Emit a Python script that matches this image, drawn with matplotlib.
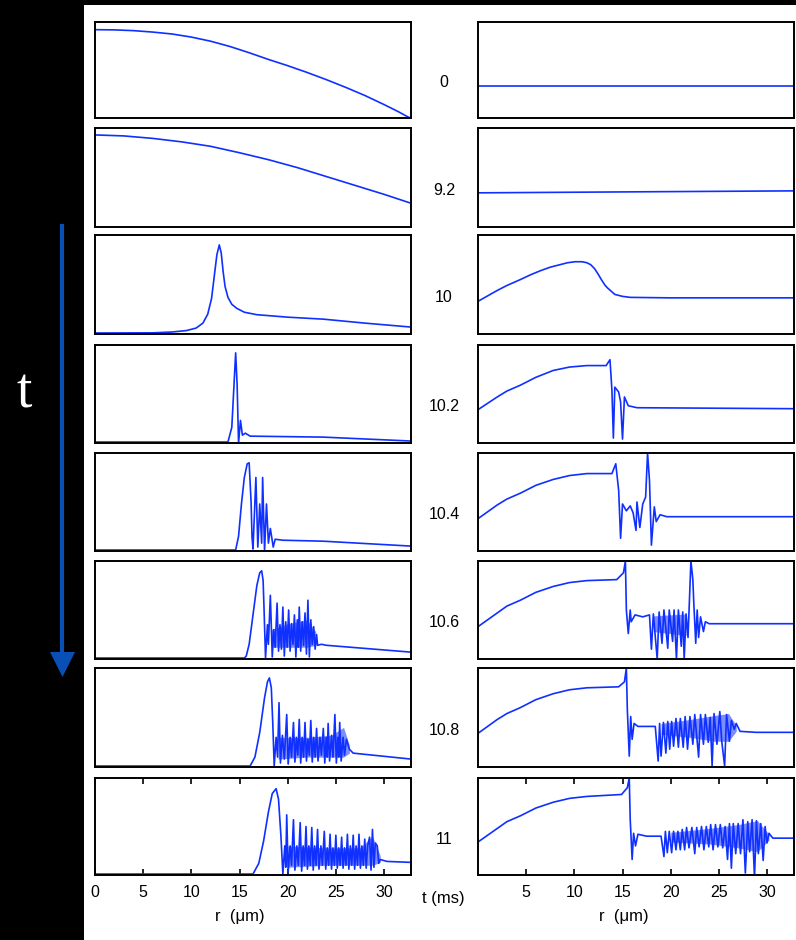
import matplotlib
matplotlib.use('Agg')
import matplotlib.pyplot as plt
from matplotlib.patches import Rectangle, Polygon

plt.rcParams['font.family'] = ['Liberation Sans', 'DejaVu Sans']

# time of each row (ms), shown between the columns
times = ['0', '9.2', '10', '10.2', '10.4', '10.6', '10.8', '11']

# left column traces: (r in um, value normalised to panel height)
left_t0 = [(0, 0.92), (2, 0.918), (4, 0.91), (6, 0.895), (8, 0.875), (10, 0.843), (12, 0.80),
           (14, 0.745), (16, 0.68), (18, 0.61), (20, 0.545), (22, 0.475), (24, 0.40), (26, 0.32),
           (28, 0.235), (30, 0.14), (31.5, 0.065), (32.5, 0.01), (32.8, 0.0)]
left_t92 = [(0, 0.93), (3, 0.92), (6, 0.895), (9, 0.86), (12, 0.815), (15, 0.75), (18, 0.68),
            (21, 0.60), (24, 0.51), (27, 0.42), (30, 0.33), (32.8, 0.24)]
left_t10 = [(0, 0.01), (6, 0.012), (8, 0.02), (9.5, 0.035), (10.5, 0.06), (11.2, 0.11), (11.7, 0.2),
            (12.1, 0.36), (12.4, 0.6), (12.65, 0.8), (12.9, 0.9), (13.1, 0.82), (13.3, 0.63),
            (13.5, 0.48), (13.8, 0.37), (14.2, 0.3), (14.7, 0.26), (15.5, 0.22), (16.8, 0.195),
            (20, 0.17), (23.7, 0.15), (28, 0.11), (32.8, 0.07)]
left_t102 = [(0, 0.01), (13.8, 0.01), (14.2, 0.16), (14.4, 0.54), (14.6, 0.92), (14.75, 0.6),
             (14.9, 0.0), (15.1, 0.23), (15.3, 0.08), (15.6, 0.1), (16.1, 0.07), (23.7, 0.06),
             (32.8, 0.02)]
left_t104 = [(0, 0.01), (14.6, 0.01), (14.9, 0.15), (15.2, 0.48), (15.5, 0.75), (15.8, 0.89), (16.0, 0.90),
             (16.2, 0.5), (16.3, 0.14), (16.4, 0.02), (16.7, 0.75), (16.9, 0.04), (17.1, 0.48),
             (17.3, 0.08), (17.4, 0.75), (17.6, 0.0), (17.8, 0.48), (18.0, 0.08), (18.2, 0.23),
             (18.5, 0.04), (18.7, 0.12), (19.5, 0.11), (23.7, 0.10), (32.8, 0.05)]
left_t106 = [(0, 0.01), (15.5, 0.01), (15.7, 0.03), (16.0, 0.15), (16.4, 0.45), (16.8, 0.75), (17.1, 0.88),
             (17.3, 0.9), (17.45, 0.8), (17.55, 0.5), (17.7, 0.01), (17.9, 0.35), (18.0, 0.15),
             (18.2, 0.65), (18.4, 0.02), (18.55, 0.3), (18.7, 0.12), (18.9, 0.57), (19.05, 0.08),
             (19.2, 0.35), (19.35, 0.1), (19.5, 0.53), (19.65, 0.03), (19.8, 0.38), (19.95, 0.12),
             (20.1, 0.5), (20.25, 0.08), (20.4, 0.36), (20.55, 0.15), (20.7, 0.45), (20.85, 0.02),
             (21.0, 0.4), (21.1, 0.12), (21.2, 0.53), (21.35, 0.08), (21.5, 0.38), (21.65, 0.14),
             (21.8, 0.47), (21.95, 0.05), (22.1, 0.6), (22.25, 0.02), (22.4, 0.4), (22.55, 0.15),
             (22.7, 0.33), (22.85, 0.1), (23.0, 0.25), (23.1, 0.14), (23.5, 0.15), (24, 0.14),
             (32.8, 0.07)]
left_t108 = [(0, 0.01), (16.1, 0.01), (16.6, 0.1), (17.1, 0.35), (17.6, 0.7), (17.9, 0.86), (18.1, 0.9),
             (18.3, 0.8), (18.45, 0.45), (18.6, 0.01), (18.8, 0.3), (18.95, 0.1), (19.1, 0.65),
             (19.25, 0.04), (19.45, 0.32), (19.65, 0.08), (19.9, 0.53), (20.05, 0.03), (20.25, 0.3),
             (20.4, 0.1), (20.6, 0.45), (20.75, 0.05), (20.9, 0.3), (21.05, 0.12), (21.2, 0.48),
             (21.35, 0.04), (21.5, 0.3), (21.65, 0.1), (21.8, 0.45), (21.95, 0.06), (22.1, 0.28),
             (22.25, 0.12), (22.4, 0.47), (22.55, 0.05), (22.7, 0.3), (22.85, 0.1), (23.0, 0.39),
             (23.15, 0.06), (23.35, 0.3), (23.5, 0.12), (23.7, 0.39), (23.85, 0.04), (24.0, 0.3),
             (24.1, 0.1), (24.2, 0.44), (24.35, 0.06), (24.55, 0.32), (24.7, 0.1), (24.9, 0.53),
             (25.05, 0.04), (25.2, 0.3), (25.3, 0.1), (25.4, 0.45), (25.55, 0.06), (25.75, 0.3),
             (25.9, 0.12), (26.1, 0.28), (26.4, 0.18), (26.8, 0.14), (32.8, 0.08)]
left_t11 = [(0, 0.01), (16.4, 0.01), (17.0, 0.12), (17.5, 0.35), (18.0, 0.65), (18.4, 0.84), (18.8, 0.89),
            (19.05, 0.78), (19.3, 0.4), (19.5, 0.01), (19.7, 0.3), (19.8, 0.08), (19.9, 0.62),
            (20.05, 0.03), (20.25, 0.3), (20.4, 0.1), (20.6, 0.57), (20.75, 0.05), (20.95, 0.3),
            (21.1, 0.1), (21.3, 0.54), (21.45, 0.04), (21.6, 0.3), (21.75, 0.1), (21.9, 0.5),
            (22.05, 0.06), (22.2, 0.3), (22.35, 0.1), (22.5, 0.49), (22.65, 0.05), (22.8, 0.3),
            (22.95, 0.1), (23.1, 0.47), (23.25, 0.06), (23.45, 0.3), (23.6, 0.1), (23.8, 0.45),
            (23.95, 0.06), (24.1, 0.28), (24.25, 0.1), (24.4, 0.42), (24.55, 0.06), (24.7, 0.28),
            (24.85, 0.1), (25.0, 0.41), (25.15, 0.07), (25.3, 0.28), (25.45, 0.1), (25.6, 0.39),
            (25.75, 0.07), (25.9, 0.28), (26.05, 0.1), (26.2, 0.42), (26.35, 0.06), (26.5, 0.3),
            (26.65, 0.1), (26.8, 0.41), (26.95, 0.06), (27.1, 0.3), (27.25, 0.1), (27.4, 0.42),
            (27.55, 0.07), (27.7, 0.3), (27.85, 0.1), (28.0, 0.37), (28.15, 0.07), (28.3, 0.3),
            (28.5, 0.39), (28.65, 0.05), (28.8, 0.47), (28.95, 0.08), (29.1, 0.33), (29.3, 0.3),
            (29.45, 0.12), (29.6, 0.16), (30.3, 0.14), (32.8, 0.13)]

# right column traces
right_t0 = [(0, 0.33), (32.8, 0.33)]
right_t92 = [(0, 0.345), (16, 0.355), (32.8, 0.365)]
right_t10 = [(0, 0.33), (1, 0.385), (2, 0.44), (3, 0.49), (4.4, 0.55), (5.5, 0.60), (6.5, 0.64),
             (7.5, 0.675), (8.5, 0.70), (9.3, 0.72), (10.1, 0.73), (10.8, 0.73), (11.3, 0.72),
             (11.7, 0.70), (12.1, 0.66), (12.5, 0.60), (12.8, 0.55), (13.2, 0.49), (13.5, 0.46),
             (14.2, 0.40), (15.0, 0.38), (15.8, 0.37), (20, 0.365), (32.8, 0.365)]
right_t102 = [(0, 0.34), (1, 0.405), (2, 0.47), (3, 0.53), (4.4, 0.59), (6, 0.67), (7.8, 0.74),
              (9.5, 0.775), (11.3, 0.79), (13.3, 0.79), (13.7, 0.85), (13.9, 0.54), (14.05, 0.05),
              (14.2, 0.57), (14.6, 0.52), (14.8, 0.42), (15.0, 0.04), (15.2, 0.47), (15.6, 0.38),
              (16.5, 0.36), (32.8, 0.35)]
right_t104 = [(0, 0.33), (1, 0.40), (2, 0.47), (3, 0.53), (4.4, 0.59), (6, 0.67), (7.8, 0.73),
              (9.5, 0.77), (11.3, 0.79), (13.9, 0.79), (14.3, 0.89), (14.6, 0.62), (14.8, 0.13),
              (15.0, 0.48), (15.4, 0.41), (15.8, 0.46), (16.1, 0.39), (16.4, 0.21), (16.5, 0.50),
              (16.8, 0.24), (17.1, 0.48), (17.4, 0.55), (17.6, 1.0), (17.8, 0.72), (18.0, 0.06),
              (18.3, 0.45), (18.5, 0.30), (18.9, 0.37), (19.6, 0.35), (32.8, 0.35)]
right_t106 = [(0, 0.33), (1, 0.40), (2, 0.47), (3, 0.54), (4.4, 0.60), (6, 0.68), (7.8, 0.74),
              (9.5, 0.78), (11.3, 0.8), (14.4, 0.81), (15.1, 0.88), (15.3, 1.0), (15.4, 0.5),
              (15.6, 0.26), (15.8, 0.5), (15.9, 0.38), (16.3, 0.45), (17.1, 0.43), (17.8, 0.45),
              (18.0, 0.1), (18.2, 0.46), (18.6, 0.0), (18.8, 0.48), (19.1, 0.16), (19.3, 0.5),
              (19.7, 0.11), (19.85, 0.5), (20.2, 0.18), (20.35, 0.5), (20.6, 0.0), (20.8, 0.5),
              (21.1, 0.13), (21.25, 0.48), (21.4, 0.0), (21.6, 0.46), (21.8, 0.22), (22.1, 1.0),
              (22.3, 0.81), (22.4, 0.57), (22.6, 0.16), (22.75, 0.5), (22.9, 0.22), (23.1, 0.43),
              (23.4, 0.28), (23.6, 0.38), (24.0, 0.36), (32.8, 0.36)]
right_t108 = [(0, 0.34), (1, 0.41), (2, 0.48), (3, 0.54), (4.4, 0.6), (6, 0.68), (7.8, 0.74),
              (9.5, 0.78), (11.3, 0.8), (14.6, 0.81), (15.2, 0.86), (15.4, 1.0), (15.5, 0.58),
              (15.7, 0.11), (15.85, 0.51), (16.0, 0.28), (16.2, 0.44), (16.6, 0.41), (18.4, 0.41),
              (18.7, 0.06), (18.85, 0.44), (19.0, 0.11), (19.25, 0.45), (19.5, 0.14), (19.7, 0.46),
              (19.9, 0.18), (20.1, 0.46), (20.3, 0.21), (20.55, 0.49), (20.8, 0.2), (21.0, 0.49),
              (21.3, 0.2), (21.5, 0.51), (21.75, 0.18), (22.0, 0.51), (22.3, 0.23), (22.5, 0.53),
              (22.9, 0.1), (23.1, 0.53), (23.4, 0.23), (23.6, 0.53), (23.9, 0.25), (24.1, 0.5),
              (24.3, 0.01), (24.5, 0.54), (24.8, 0.23), (25.1, 0.56), (25.3, 0.26), (25.6, 0.01),
              (25.8, 0.53), (26.1, 0.26), (26.3, 0.47), (26.6, 0.38), (26.8, 0.44), (27.2, 0.36),
              (28.9, 0.35), (32.8, 0.35)]
right_t11 = [(0, 0.34), (1, 0.41), (2, 0.48), (3, 0.55), (4.4, 0.61), (6, 0.69), (7.8, 0.75),
             (9.5, 0.79), (11.3, 0.81), (14.9, 0.83), (15.5, 0.9), (15.7, 1.0), (15.8, 0.57),
             (16.0, 0.16), (16.15, 0.43), (16.35, 0.3), (16.6, 0.42), (17.5, 0.40), (19.0, 0.40),
             (19.3, 0.19), (19.45, 0.45), (19.65, 0.23), (19.85, 0.45), (20.1, 0.23), (20.3, 0.45),
             (20.55, 0.26), (20.75, 0.45), (21.0, 0.26), (21.2, 0.47), (21.45, 0.26), (21.65, 0.49),
             (21.9, 0.28), (22.2, 0.49), (22.5, 0.22), (22.7, 0.49), (22.95, 0.29), (23.2, 0.5),
             (23.45, 0.26), (23.7, 0.5), (23.95, 0.29), (24.15, 0.52), (24.4, 0.26), (24.65, 0.52),
             (24.9, 0.29), (25.15, 0.52), (25.4, 0.28), (25.65, 0.5), (25.9, 0.16), (26.1, 0.53),
             (26.3, 0.07), (26.5, 0.53), (26.75, 0.22), (27.0, 0.53), (27.25, 0.22), (27.5, 0.57),
             (27.75, 0.02), (28.0, 0.55), (28.2, 0.24), (28.45, 0.57), (28.7, -0.03), (28.9, 0.56),
             (29.1, 0.22), (29.35, 0.53), (29.6, 0.15), (29.8, 0.5), (30.0, 0.33), (30.2, 0.43),
             (30.6, 0.38), (32.8, 0.38)]

# dense oscillation bands (r, low, high), read from the blurred filled regions
left_band_t106 = [(18.3, 0.12, 0.30), (20.0, 0.12, 0.36), (22.0, 0.12, 0.40), (22.9, 0.14, 0.28)]
left_band_t108 = [(19.0, 0.08, 0.30), (22.0, 0.10, 0.30), (24.5, 0.10, 0.32), (25.8, 0.10, 0.40),
                  (26.4, 0.14, 0.22)]
left_band_t11 = [(20.0, 0.08, 0.30), (24.0, 0.10, 0.28), (27.5, 0.10, 0.28), (28.8, 0.10, 0.40),
                 (29.6, 0.13, 0.20)]
right_band_t106 = [(18.2, 0.28, 0.44), (21.6, 0.24, 0.46)]
right_band_t108 = [(19.0, 0.33, 0.44), (22.0, 0.30, 0.48), (24.5, 0.26, 0.52), (26.0, 0.26, 0.54),
                   (26.8, 0.36, 0.42)]
right_band_t11 = [(20.0, 0.34, 0.44), (24.0, 0.32, 0.48), (27.0, 0.28, 0.52), (29.0, 0.24, 0.56),
                  (30.2, 0.36, 0.42)]

left_traces = [left_t0, left_t92, left_t10, left_t102, left_t104, left_t106, left_t108, left_t11]
right_traces = [right_t0, right_t92, right_t10, right_t102, right_t104, right_t106, right_t108, right_t11]
left_bands = [None, None, None, None, None, left_band_t106, left_band_t108, left_band_t11]
right_bands = [None, None, None, None, None, right_band_t106, right_band_t108, right_band_t11]

W, H = 796, 940
row_top = [22, 128, 235, 345, 453, 561, 668, 778]
row_bot = [118, 227, 334, 443, 551, 659, 767, 875]
line_col = '#1030ff'

fig = plt.figure(figsize=(W / 100, H / 100), dpi=100, facecolor='black')

# background layer in pixel coordinates
bg = fig.add_axes([0, 0, 1, 1], zorder=0)
bg.set_xlim(0, W)
bg.set_ylim(H, 0)
bg.axis('off')
bg.add_patch(Rectangle((84, 5), W - 84, H - 5, color='white', lw=0))
bg.plot([62, 62], [226, 656], color='#0a4fb5', lw=3)
bg.add_patch(Polygon([[50, 652], [75, 652], [62.5, 677]], closed=True, color='#0a4fb5', lw=0))
bg.text(24, 393, 't', color='white', fontsize=40, family='Liberation Serif', ha='center', va='center')

for i in range(8):
    for col, traces, bands in ((95, left_traces, left_bands), (478, right_traces, right_bands)):
        ax = fig.add_axes([col / W, 1 - row_bot[i] / H, 316 / W, (row_bot[i] - row_top[i]) / H], zorder=2)
        if bands[i] is not None:
            br, blo, bhi = zip(*bands[i])
            ax.fill_between(br, blo, bhi, color=line_col, alpha=0.55, lw=0)
        r, v = zip(*traces[i])
        ax.plot(r, v, color=line_col, lw=1.2)
        ax.set_xlim(0, 32.8)
        ax.set_ylim(0, 1)
        ax.set_yticks([])
        for s in ax.spines.values():
            s.set_linewidth(1.4)
        if i == 7:
            ticks = [0, 5, 10, 15, 20, 25, 30] if col == 95 else [5, 10, 15, 20, 25, 30]
            ax.set_xticks(ticks)
            ax.tick_params(axis='x', direction='in', top=True, length=4, width=1.2,
                           labelsize=11.5, pad=7)
        else:
            ax.set_xticks([])
    h = row_bot[i] - row_top[i]
    bg.text(444, row_bot[i] - 0.37 * h, times[i], fontsize=11.5, ha='center', va='center')

bg.text(443, 898, 't (ms)', fontsize=12, ha='center', va='center')
bg.text(240, 916, 'r  (\u03bcm)', fontsize=12, ha='center', va='center')
bg.text(624, 916, 'r  (\u03bcm)', fontsize=12, ha='center', va='center')

fig.savefig('out.png', dpi=100, facecolor='black')
